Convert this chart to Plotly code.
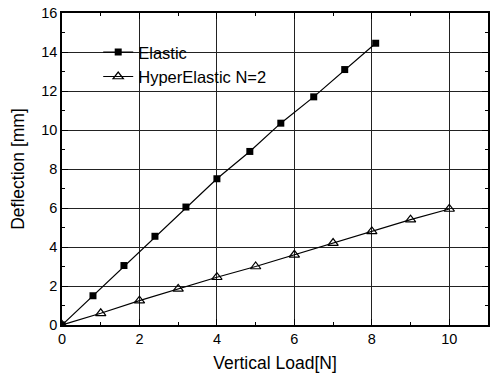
import plotly.graph_objects as go

elastic_x = [0, 0.8, 1.6, 2.4, 3.2, 4.0, 4.85, 5.65, 6.5, 7.3, 8.1]
elastic_y = [0, 1.5, 3.05, 4.55, 6.05, 7.5, 8.9, 10.35, 11.7, 13.1, 14.45]
hyper_x = [0, 1, 2, 3, 4, 5, 6, 7, 8, 9, 10]
hyper_y = [0, 0.6, 1.25, 1.85, 2.45, 3.0, 3.6, 4.2, 4.8, 5.4, 5.95]
x_ticks = [0, 2, 4, 6, 8, 10]
y_ticks = [0, 2, 4, 6, 8, 10, 12, 14, 16]

fig = go.Figure()
fig.add_trace(go.Scatter(x=elastic_x, y=elastic_y, mode="lines+markers", name="Elastic",
                         line=dict(color="black", width=1.2),
                         marker=dict(symbol="square", size=7, color="black")))
fig.add_trace(go.Scatter(x=hyper_x, y=hyper_y, mode="lines+markers", name="HyperElastic N=2",
                         line=dict(color="black", width=1.2),
                         marker=dict(symbol="triangle-up-open", size=9, color="black",
                                     line=dict(width=1.2))))

axis_common = dict(showline=True, linecolor="black", linewidth=1.5, mirror="allticks",
                   ticks="inside", ticklen=6, tickcolor="black", showgrid=True,
                   gridcolor="#222", gridwidth=1, zeroline=False,
                   tickfont=dict(family="Liberation Sans, Arial", size=14.5, color="black"),
                   minor=dict(ticks="inside", ticklen=3, tickcolor="black", dtick=1, showgrid=False))

fig.update_xaxes(range=[0, 11], tickvals=x_ticks, title=dict(text="Vertical Load[N]", standoff=11,
                 font=dict(family="Liberation Sans, Arial", size=17.5, color="black")), **axis_common)
fig.update_yaxes(range=[0, 16], tickvals=y_ticks, title=dict(text="Deflection [mm]", standoff=12,
                 font=dict(family="Liberation Sans, Arial", size=17.5, color="black")), **axis_common)

fig.update_layout(width=493, height=376, margin=dict(l=62, r=3, t=13, b=51),
                  plot_bgcolor="white", paper_bgcolor="white",
                  legend=dict(x=0.085, y=0.93, xanchor="left", yanchor="top",
                              bgcolor="rgba(0,0,0,0)", tracegroupgap=0,
                              font=dict(family="Liberation Sans, Arial", size=16.5, color="black")))

fig.write_html("out.html")
